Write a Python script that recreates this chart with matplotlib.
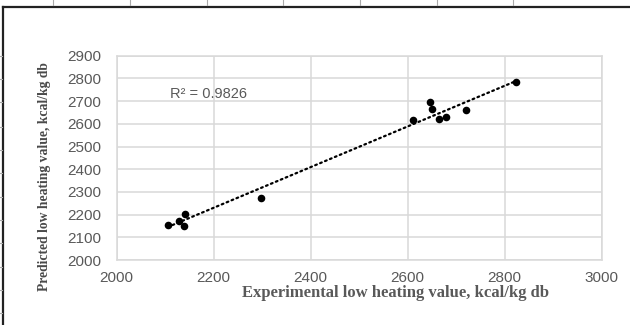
import numpy as np
import matplotlib
matplotlib.use("Agg")
import matplotlib.pyplot as plt
from matplotlib.lines import Line2D

# Data
experimental = [2105, 2128, 2140, 2138, 2298, 2610, 2646, 2651, 2664, 2679, 2721, 2824]
predicted = [2155, 2173, 2204, 2148, 2274, 2617, 2697, 2667, 2620, 2631, 2662, 2783]
r2_label = "R² = 0.9826"
x_ticks = [2000, 2200, 2400, 2600, 2800, 3000]
y_ticks = [2000, 2100, 2200, 2300, 2400, 2500, 2600, 2700, 2800, 2900]
x_label = "Experimental low heating value, kcal/kg db"
y_label = "Predicted low heating value, kcal/kg db"

grid_c = "#d9d9d9"
text_c = "#595959"

fig = plt.figure(figsize=(6.3, 3.25), dpi=100)
ax = fig.add_axes([116.7 / 630, 1 - 260 / 325, (601.7 - 116.7) / 630, (260 - 55.7) / 325])

x = np.array(experimental, dtype=float)
y = np.array(predicted, dtype=float)
ax.scatter(x, y, s=30, color="black", zorder=3, linewidths=0)

coef = np.polyfit(x, y, 1)
xs = np.array([x.min(), x.max()])
ax.plot(xs, np.polyval(coef, xs), color="black", lw=1.6,
        linestyle=(0, (0.8, 1.6)), dash_capstyle="round", zorder=2)

ax.text(2110, 2731, r2_label, color=text_c, fontsize=10.5,
        family="Liberation Sans", va="center", ha="left")

ax.set_xlim(2000, 3000)
ax.set_ylim(2000, 2900)
ax.set_xticks(x_ticks)
ax.set_yticks(y_ticks)
ax.grid(True, color=grid_c, lw=1.1)
ax.set_axisbelow(True)
for s in ax.spines.values():
    s.set_color(grid_c)
    s.set_linewidth(1.1)
ax.tick_params(length=0, labelsize=11, labelcolor=text_c)
ax.tick_params(axis="y", pad=11)
ax.tick_params(axis="x", pad=8)
for lab in ax.get_xticklabels() + ax.get_yticklabels():
    lab.set_family("Liberation Sans")

fig.text(396 / 630, 1 - 293 / 325, x_label, ha="center", va="center",
         fontsize=12, fontweight="bold", family="Liberation Serif", color=text_c)
fig.text(45 / 630, 1 - 177 / 325, y_label, ha="center", va="center", rotation=90,
         fontsize=9.8, fontweight="bold", family="Liberation Serif", color="#4a4a4a")

# page frame and ruler marks
W, H = 630, 325
def fx(p): return p / W
def fy(p): return 1 - p / H
fig.add_artist(Line2D([fx(3), fx(630)], [fy(7.3), fy(7.3)], color="#222222", lw=1.6))
fig.add_artist(Line2D([fx(3.3), fx(3.3)], [fy(7.3), fy(325)], color="#222222", lw=1.6))
for px in [53, 130, 207, 283, 360, 437, 513]:
    fig.add_artist(Line2D([fx(px), fx(px)], [fy(0), fy(5)], color="#aaaaaa", lw=0.8))
for py in [55.7, 79, 102, 127, 150, 173, 197, 220, 243, 267, 290, 313]:
    fig.add_artist(Line2D([fx(0), fx(1.5)], [fy(py), fy(py)], color="#aaaaaa", lw=0.8))

fig.savefig("out.png", dpi=100)
